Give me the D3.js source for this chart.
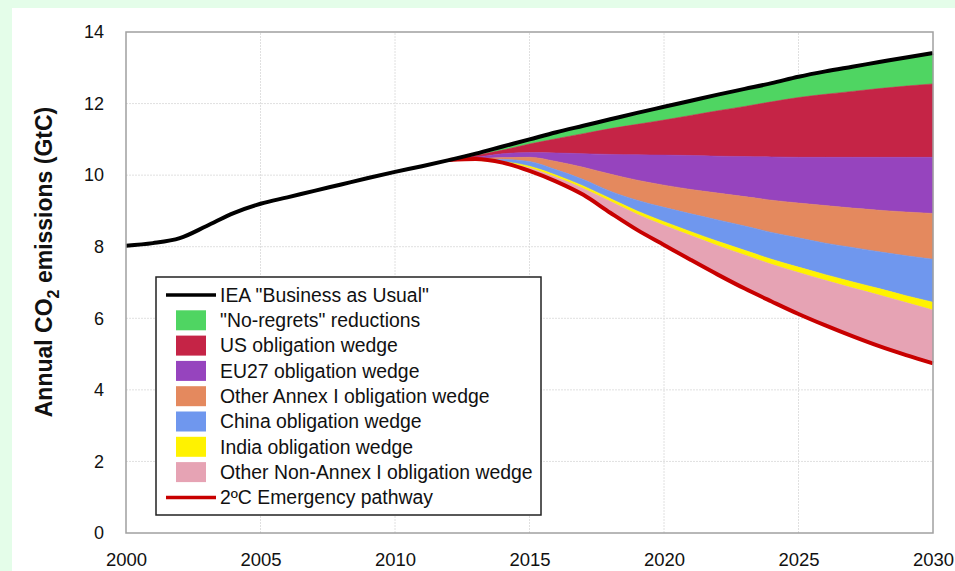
<!DOCTYPE html>
<html><head><meta charset="utf-8">
<script src="https://cdn.jsdelivr.net/npm/d3@7"></script>
<style>
html,body{margin:0;padding:0;background:#e4fde9;}
svg{display:block;font-family:"Liberation Sans",Arial,sans-serif;}
</style>
</head><body>
<svg id="chart" width="955" height="571"></svg>
<script>
// ---- data ----
const bauYears = [2000,2001,2002,2003,2004,2005,2006,2007,2008,2009,2010,2011,2012,2013,2014,2015,2016,2017,2018,2019,2020,2021,2022,2023,2024,2025,2026,2027,2028,2029,2030];
const bauValues = [8.03,8.10,8.24,8.58,8.94,9.20,9.38,9.56,9.74,9.92,10.09,10.25,10.42,10.60,10.80,11.00,11.20,11.38,11.56,11.74,11.91,12.08,12.25,12.41,12.57,12.75,12.90,13.03,13.16,13.29,13.41];

const projYears = [2012,2013,2014,2015,2016,2017,2018,2019,2020,2021,2022,2023,2024,2025,2026,2027,2028,2029,2030];
// lower edge of each wedge (GtC)
const noRegretsFloor = [10.42,10.55,10.70,10.87,11.02,11.16,11.30,11.42,11.54,11.67,11.80,11.92,12.05,12.17,12.26,12.34,12.42,12.49,12.55];
const usFloor        = [10.42,10.50,10.60,10.63,10.62,10.60,10.58,10.57,10.56,10.55,10.53,10.52,10.51,10.50,10.50,10.50,10.50,10.50,10.50];
const eu27Floor      = [10.42,10.46,10.49,10.50,10.38,10.22,10.03,9.86,9.72,9.60,9.50,9.40,9.30,9.22,9.15,9.08,9.02,8.97,8.93];
const annexIFloor    = [10.42,10.44,10.44,10.38,10.15,9.88,9.55,9.30,9.10,8.92,8.75,8.58,8.40,8.25,8.10,7.98,7.86,7.75,7.65];
const chinaFloor     = [10.42,10.42,10.38,10.25,10.00,9.70,9.35,9.00,8.70,8.42,8.15,7.90,7.65,7.43,7.22,7.02,6.83,6.63,6.45];
const indiaFloor     = [10.42,10.41,10.35,10.20,9.94,9.63,9.27,8.91,8.60,8.31,8.03,7.77,7.51,7.28,7.06,6.85,6.65,6.44,6.23];
const emergencyPath  = [10.42,10.45,10.35,10.12,9.82,9.45,8.95,8.47,8.05,7.63,7.22,6.83,6.47,6.12,5.80,5.50,5.22,4.97,4.74];
const bauProj        = [10.42,10.60,10.80,11.00,11.20,11.38,11.56,11.74,11.91,12.08,12.25,12.41,12.57,12.75,12.90,13.03,13.16,13.29,13.41];

const wedgeNames  = ['"No-regrets" reductions','US obligation wedge','EU27 obligation wedge','Other Annex I obligation wedge','China obligation wedge','India obligation wedge','Other Non-Annex I obligation wedge'];
const wedgeColors = ['#4fd562','#c52446','#9644be','#e4895e','#6f97ee','#fff200','#e6a3b4'];
const bauLabel = 'IEA "Business as Usual"';
const emergencyLabel = '2ºC Emergency pathway';
const yTicks = [0,2,4,6,8,10,12,14];
const xTicks = [2000,2005,2010,2015,2020,2025,2030];

// ---- drawing ----
const svg = d3.select('#chart');
svg.append('rect').attr('x',12).attr('y',8).attr('width',943).attr('height',563).attr('fill','#ffffff');

const x = d3.scaleLinear().domain([2000,2030]).range([126,933]);
const y = d3.scaleLinear().domain([0,14]).range([533,32]);

// grid
const grid = svg.append('g');
grid.selectAll('line.h').data(yTicks.filter(d=>d>0&&d<14)).join('line')
  .attr('x1',x(2000)).attr('x2',x(2030)).attr('y1',d=>y(d)).attr('y2',d=>y(d))
  .attr('stroke','#e0e0e0').attr('stroke-width',1).attr('stroke-dasharray','2,1');
grid.selectAll('line.v').data(xTicks.filter(d=>d>2000&&d<2030)).join('line')
  .attr('y1',y(0)).attr('y2',y(14)).attr('x1',d=>x(d)).attr('x2',d=>x(d))
  .attr('stroke','#e0e0e0').attr('stroke-width',1).attr('stroke-dasharray','2,1');

// wedges
const bounds = [bauProj,noRegretsFloor,usFloor,eu27Floor,annexIFloor,chinaFloor,indiaFloor,emergencyPath];
const curve = d3.curveMonotoneX;
for (let i=0;i<wedgeNames.length;i++){
  const top = bounds[i], bot = bounds[i+1];
  const area = d3.area().curve(curve)
    .x((d,j)=>x(projYears[j])).y0((d,j)=>y(bot[j])).y1((d,j)=>y(top[j]));
  svg.append('path').datum(projYears).attr('d',area).attr('fill',wedgeColors[i]).attr('stroke',wedgeColors[i]).attr('stroke-width',0.5);
}

// emergency line
const lineE = d3.line().curve(curve).x((d,j)=>x(projYears[j])).y((d,j)=>y(emergencyPath[j]));
svg.append('path').datum(projYears).attr('d',lineE).attr('fill','none').attr('stroke','#c80000').attr('stroke-width',4);

// BAU line
const lineB = d3.line().curve(curve).x((d,j)=>x(bauYears[j])).y((d,j)=>y(bauValues[j]));
svg.append('path').datum(bauYears).attr('d',lineB).attr('fill','none').attr('stroke','#000').attr('stroke-width',4);

// border
svg.append('rect').attr('x',x(2000)).attr('y',y(14)).attr('width',x(2030)-x(2000)).attr('height',y(0)-y(14))
  .attr('fill','none').attr('stroke','#a0a0a0').attr('stroke-width',1.5);

// axes
const yAxis = svg.append('g').attr('transform',`translate(${x(2000)},0)`)
  .call(d3.axisLeft(y).tickValues(yTicks).tickSize(0).tickPadding(22).tickFormat(d3.format('d')));
yAxis.select('.domain').remove();
yAxis.selectAll('text').attr('font-size',18).attr('fill','#111').attr('font-family','"Liberation Sans",Arial,sans-serif');

const xAxis = svg.append('g').attr('transform',`translate(0,${y(0)})`)
  .call(d3.axisBottom(x).tickValues(xTicks).tickSize(0).tickPadding(20).tickFormat(d3.format('d')));
xAxis.select('.domain').remove();
xAxis.selectAll('text').attr('font-size',18.5).attr('fill','#111').attr('font-family','"Liberation Sans",Arial,sans-serif');

// y label
const yl = svg.append('text').attr('transform','translate(52,262) rotate(-90)')
  .attr('text-anchor','middle').attr('font-size',23).attr('font-weight','bold').attr('fill','#111');
yl.append('tspan').text('Annual CO');
yl.append('tspan').attr('font-size',16).attr('dy',7).text('2');
yl.append('tspan').attr('dy',-7).text(' emissions (GtC)');

// legend
const lg = svg.append('g');
lg.append('rect').attr('x',156).attr('y',277).attr('width',385).attr('height',238)
  .attr('fill','#fff').attr('stroke','#222').attr('stroke-width',1.5);
const rowY = i => 295 + i*25.3;
const items = [{type:'line',color:'#000',label:bauLabel}]
  .concat(wedgeNames.map((n,i)=>({type:'box',color:wedgeColors[i],label:n})))
  .concat([{type:'line',color:'#c80000',label:emergencyLabel}]);
items.forEach((it,i)=>{
  const cy = rowY(i);
  if (it.type==='line'){
    lg.append('line').attr('x1',166).attr('x2',216).attr('y1',cy).attr('y2',cy).attr('stroke',it.color).attr('stroke-width',3.5);
  } else {
    lg.append('rect').attr('x',176).attr('y',cy-10).attr('width',30).attr('height',20).attr('fill',it.color);
  }
  lg.append('text').attr('x',220).attr('y',cy).attr('dy','0.35em').attr('font-size',19.4).attr('fill','#111').text(it.label);
});
</script>
</body></html>
